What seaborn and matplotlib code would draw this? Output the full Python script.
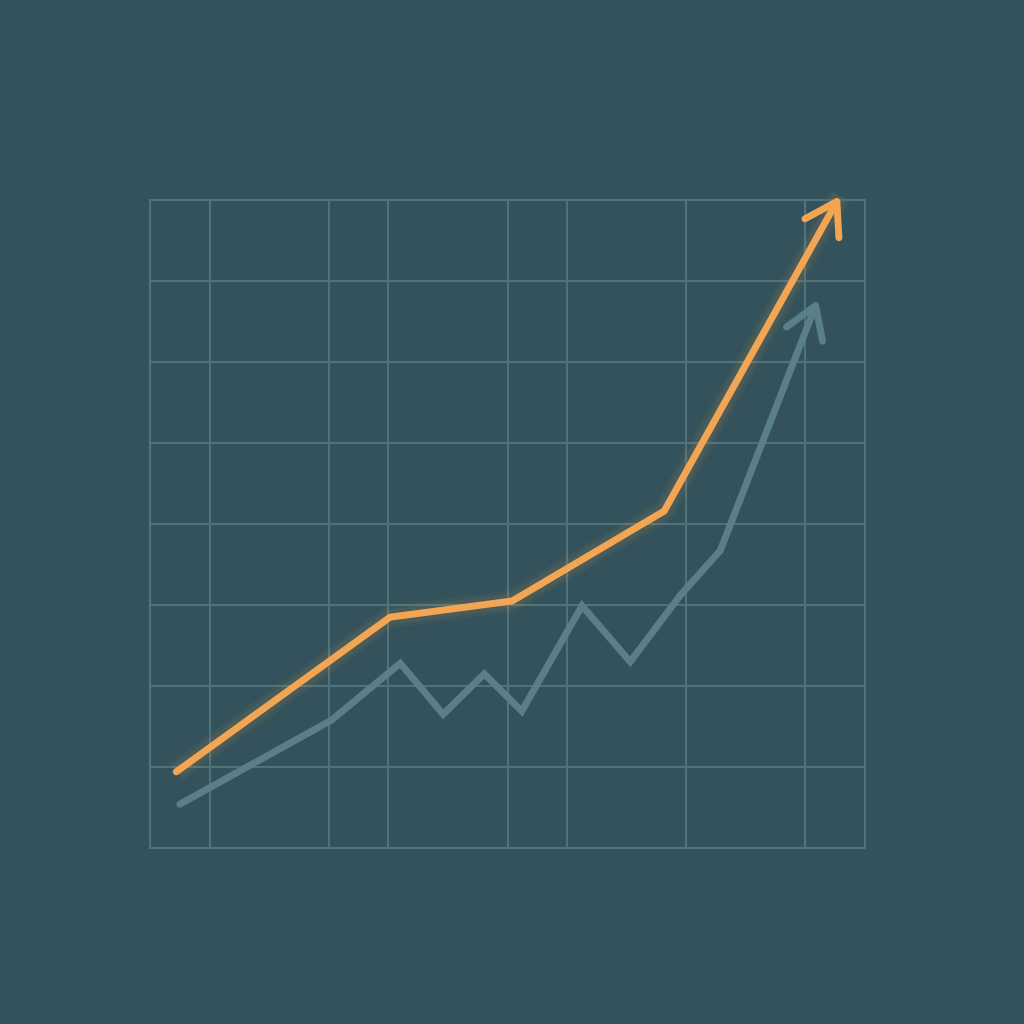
import pandas as pd
import numpy as np
import matplotlib.pyplot as plt
import seaborn as sns

# data (x in grid units, y in grid rows)
orange_x = [0.44, 4.03, 6.08, 8.63, 11.58]
orange_y = [0.94, 2.85, 3.05, 4.16, 8.05]
teal_x = [0.50, 3.05, 4.20, 4.92, 5.61, 6.24, 7.25, 8.06, 8.90, 9.57, 11.21]
teal_y = [0.54, 1.58, 2.28, 1.65, 2.15, 1.69, 2.99, 2.30, 3.12, 3.67, 6.77]
grid_x = [0, 1, 3, 4, 6, 7, 9, 11, 12]
grid_y = [0, 1, 2, 3, 4, 5, 6, 7, 8]

bg = '#33525B'
grid_col = '#507279'
orange = '#F2A552'
teal = '#5A7F87'

sns.set_style('white')
fig = plt.figure(figsize=(10.24, 10.24), dpi=100, facecolor=bg)
ax = fig.add_axes([150 / 1024, 176 / 1024, 715 / 1024, 648 / 1024])
ax.set_facecolor(bg)
ax.set_xlim(0, 12)
ax.set_ylim(0, 8)
ax.set_xticks(grid_x)
ax.set_yticks(grid_y)
ax.tick_params(length=0, labelbottom=False, labelleft=False)
ax.grid(True, color=grid_col, linewidth=1.5)
for s in ax.spines.values():
    s.set_color(grid_col)
    s.set_linewidth(1.5)
ax.set_axisbelow(True)

orange_df = pd.DataFrame({'x': orange_x, 'y': orange_y})
teal_df = pd.DataFrame({'x': teal_x, 'y': teal_y})
head = '->,head_length=2.2,head_width=1.4'

# teal line
sns.lineplot(data=teal_df.iloc[:-1], x='x', y='y', ax=ax, sort=False, color=teal,
             linewidth=5, solid_capstyle='round', solid_joinstyle='miter', clip_on=False)
ax.annotate('', xy=(teal_x[-1], teal_y[-1]), xytext=(teal_x[-2], teal_y[-2]),
            arrowprops=dict(arrowstyle=head, color=teal,
                            lw=5, capstyle='round', joinstyle='round', shrinkA=0, shrinkB=0),
            annotation_clip=False)

# orange glow
for w, a in [(16, 0.05), (11, 0.08)]:
    sns.lineplot(data=orange_df, x='x', y='y', ax=ax, sort=False, color=orange,
                 linewidth=w, alpha=a, solid_capstyle='butt', clip_on=False)

sns.lineplot(data=orange_df.iloc[:-1], x='x', y='y', ax=ax, sort=False, color=orange,
             linewidth=5, solid_capstyle='round', solid_joinstyle='miter', clip_on=False)
ax.annotate('', xy=(orange_x[-1], orange_y[-1]), xytext=(orange_x[-2], orange_y[-2]),
            arrowprops=dict(arrowstyle=head, color=orange,
                            lw=5, capstyle='round', joinstyle='round', shrinkA=0, shrinkB=0),
            annotation_clip=False)

ax.set_xlabel('')
ax.set_ylabel('')
fig.savefig('out.png', dpi=100, facecolor=bg)
